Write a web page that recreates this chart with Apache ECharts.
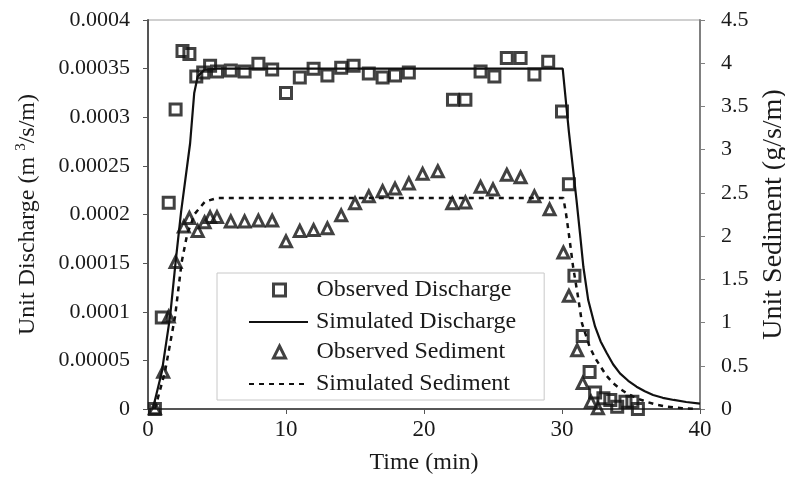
<!DOCTYPE html>
<html>
<head>
<meta charset="utf-8">
<style>
html,body{margin:0;padding:0;background:#fff;}
#chart{width:785px;height:489px;}
</style>
</head>
<body>
<div id="chart"></div>
<script src="https://cdn.jsdelivr.net/npm/echarts@6/dist/echarts.min.js"></script>
<script type="text/javascript">
// observed discharge (m3/s/m)
var obsQTime = [0.5, 1.0, 1.5, 2.0, 2.5, 3.0, 3.5, 4.0, 4.5, 5.0, 6.0, 7.0, 8.0, 9.0, 10.0, 11.0, 12.0, 13.0, 14.0, 14.9, 16.0, 17.0, 17.9, 18.9,
    22.1, 23.0, 24.1, 25.1, 26.0, 27.0, 28.0, 29.0, 30.0, 30.5, 30.9, 31.5, 32.0, 32.4, 33.0, 33.5, 34.0, 34.6, 35.1, 35.5];
var obsQ = [0, 0.000094, 0.000212, 0.000308, 0.000368, 0.000365, 0.000342, 0.000346, 0.000353, 0.000347, 0.000348, 0.000347, 0.000355, 0.000349,
    0.000325, 0.000341, 0.00035, 0.000343, 0.000351, 0.000353, 0.000345, 0.000341, 0.000343, 0.000346,
    0.000318, 0.000318, 0.000347, 0.000342, 0.000361, 0.000361, 0.000344, 0.000357, 0.000306, 0.000231, 0.000137, 0.000075,
    0.000038, 0.000017, 0.000011, 0.0000093, 0.0000024, 0.0000075, 0.0000075, 0];

// simulated discharge
var simQTime = [0.35, 1.0, 1.6, 2.0, 2.4, 3.05, 3.35, 3.6, 4.1, 5.0, 30.05, 30.5, 31.05, 31.3, 31.55, 31.9, 32.4, 32.8, 33.25, 33.7, 34.2, 34.8,
    35.4, 36.0, 36.6, 37.3, 38.1, 39.0, 40];
var simQ = [0, 0.000038, 0.000095, 0.000151, 0.000203, 0.000273, 0.000325, 0.000342, 0.000349, 0.00035, 0.00035, 0.000285, 0.000215, 0.000181,
    0.000146, 0.000112, 0.0000846, 0.0000695, 0.0000573, 0.0000460, 0.0000367, 0.0000290,
    0.0000229, 0.0000182, 0.0000144, 0.0000115, 0.0000093, 0.0000072, 0.0000055];

// observed sediment (g/s/m)
var obsSTime = [0.5, 1.1, 1.5, 2.0, 2.6, 3.0, 3.6, 4.1, 4.5, 5.0, 6.0, 7.0, 8.0, 9.0, 10.0, 11.0, 12.0, 13.0, 14.0, 15.0, 16.0, 17.0, 17.9, 18.9,
    19.9, 21.0, 22.05, 23.0, 24.1, 25.0, 26.0, 27.0, 28.0, 29.1, 30.1, 30.5, 31.1, 31.5, 32.1, 32.6];
var obsS = [0.01, 0.43, 1.07, 1.70, 2.11, 2.21, 2.06, 2.16, 2.22, 2.22, 2.17, 2.17, 2.18, 2.18, 1.94, 2.06, 2.07, 2.09, 2.24, 2.38, 2.46, 2.52, 2.55, 2.61,
    2.72, 2.75, 2.38, 2.39, 2.57, 2.54, 2.71, 2.68, 2.46, 2.31, 1.81, 1.31, 0.68, 0.30, 0.085, 0.01];

// simulated sediment
var simSTime = [0.5, 1.23, 1.96, 2.44, 2.85, 3.4, 4.13, 5.0, 30.1, 30.3, 30.5, 30.8, 31.2, 31.45, 32.0, 32.4, 32.8, 33.2, 33.7, 34.2, 34.7, 35.4,
    36.1, 36.8, 37.6, 38.7, 39.8];
var simS = [0, 0.43, 1.07, 1.70, 2.03, 2.26, 2.40, 2.44, 2.44, 2.25, 2.02, 1.65, 1.26, 0.99, 0.72, 0.59, 0.49, 0.39, 0.30, 0.235, 0.18, 0.125,
    0.085, 0.052, 0.027, 0.01, 0];

function pairs(xs, ys) {
    var out = [];
    for (var i = 0; i < xs.length; i++) out.push([xs[i], ys[i]]);
    return out;
}

var serif = 'Liberation Serif';
var ink = '#111';
var legendText = { fontFamily: serif, fontSize: 24, color: '#1a1a1a', lineHeight: 24 };

var myChart = echarts.init(document.getElementById('chart'));
var option = {
    backgroundColor: '#fff',
    animation: false,
    textStyle: { fontFamily: serif, color: '#1a1a1a' },
    grid: {
        left: 148, right: 85, top: 20, bottom: 80,
        outerBoundsMode: 'none', containLabel: false,
        show: true, borderColor: '#a0a0a0', borderWidth: 1
    },
    legend: [
        // line entries + the box round the whole legend
        {
            orient: 'vertical',
            left: 217, top: 273,
            padding: [37, 28, 4, 31],
            itemWidth: 59, itemHeight: 14, itemGap: 38,
            borderColor: '#c8c8c8', borderWidth: 1,
            itemStyle: { opacity: 0 },
            textStyle: Object.assign({ padding: [0, 0, 0, 3] }, legendText),
            data: ['Simulated Discharge', 'Simulated Sediment']
        },
        // marker entries
        {
            orient: 'vertical',
            left: 272, top: 278,
            padding: 0,
            itemWidth: 12, itemHeight: 12, itemGap: 38,
            itemStyle: { borderWidth: 3 },
            textStyle: Object.assign({ padding: [0, 0, 0, 26] }, legendText),
            data: ['Observed Discharge', 'Observed Sediment']
        }
    ],
    xAxis: {
        type: 'value', min: 0, max: 40, interval: 10,
        name: 'Time (min)', nameLocation: 'middle', nameGap: 42,
        nameTextStyle: { fontFamily: serif, fontSize: 24, color: '#1a1a1a' },
        axisLine: { lineStyle: { color: '#555', width: 2 } },
        axisTick: { show: true, inside: false, length: 5, lineStyle: { color: '#555' } },
        axisLabel: { fontFamily: serif, fontSize: 23, color: '#1a1a1a', margin: 9 },
        splitLine: { show: false }
    },
    yAxis: [
        {
            type: 'value', min: 0, max: 0.0004, interval: 0.00005,
            name: '{a|Unit Discharge (m }{s|3}{a|/s/m)}', nameLocation: 'middle', nameGap: 106,
            nameTextStyle: {
                rich: {
                    a: { fontFamily: serif, fontSize: 24, color: '#1a1a1a', lineHeight: 28 },
                    s: { fontFamily: serif, fontSize: 15, color: '#1a1a1a', verticalAlign: 'top', lineHeight: 15 }
                }
            },
            axisLine: { show: true, lineStyle: { color: '#555', width: 2 } },
            axisTick: { show: true, inside: false, length: 5, lineStyle: { color: '#555' } },
            axisLabel: {
                fontFamily: serif, fontSize: 22, color: '#1a1a1a', margin: 18,
                formatter: function (v) { return v === 0 ? '0' : String(+v.toFixed(5)); }
            },
            splitLine: { show: false }
        },
        {
            type: 'value', min: 0, max: 4.5, interval: 0.5, position: 'right',
            name: 'Unit Sediment (g/s/m)', nameLocation: 'middle', nameGap: 58, nameRotate: 90,
            nameTextStyle: { fontFamily: serif, fontSize: 28, color: '#1a1a1a' },
            axisLine: { show: true, lineStyle: { color: '#808080', width: 2 } },
            axisTick: { show: true, inside: false, length: 5, lineStyle: { color: '#808080' } },
            axisLabel: { fontFamily: serif, fontSize: 22, color: '#1a1a1a', margin: 21 },
            splitLine: { show: false }
        }
    ],
    series: [
        {
            name: 'Observed Discharge', type: 'scatter', yAxisIndex: 0,
            symbol: 'rect', symbolSize: 11,
            itemStyle: { color: 'rgba(0,0,0,0)', borderColor: ink, borderWidth: 3 },
            z: 4,
            data: pairs(obsQTime, obsQ)
        },
        {
            name: 'Simulated Discharge', type: 'line', yAxisIndex: 0,
            showSymbol: false, symbol: 'circle', smooth: false,
            lineStyle: { color: ink, width: 2.2 },
            itemStyle: { color: ink },
            z: 3,
            data: pairs(simQTime, simQ)
        },
        {
            name: 'Observed Sediment', type: 'scatter', yAxisIndex: 1,
            symbol: 'triangle', symbolSize: 11,
            itemStyle: { color: 'rgba(0,0,0,0)', borderColor: ink, borderWidth: 3 },
            z: 4,
            data: pairs(obsSTime, obsS)
        },
        {
            name: 'Simulated Sediment', type: 'line', yAxisIndex: 1,
            showSymbol: false, symbol: 'circle', smooth: false,
            lineStyle: { color: ink, width: 2.5, type: [5, 5] },
            itemStyle: { color: ink },
            z: 3,
            data: pairs(simSTime, simS)
        }
    ]
};
myChart.setOption(option);
</script>
</body>
</html>
